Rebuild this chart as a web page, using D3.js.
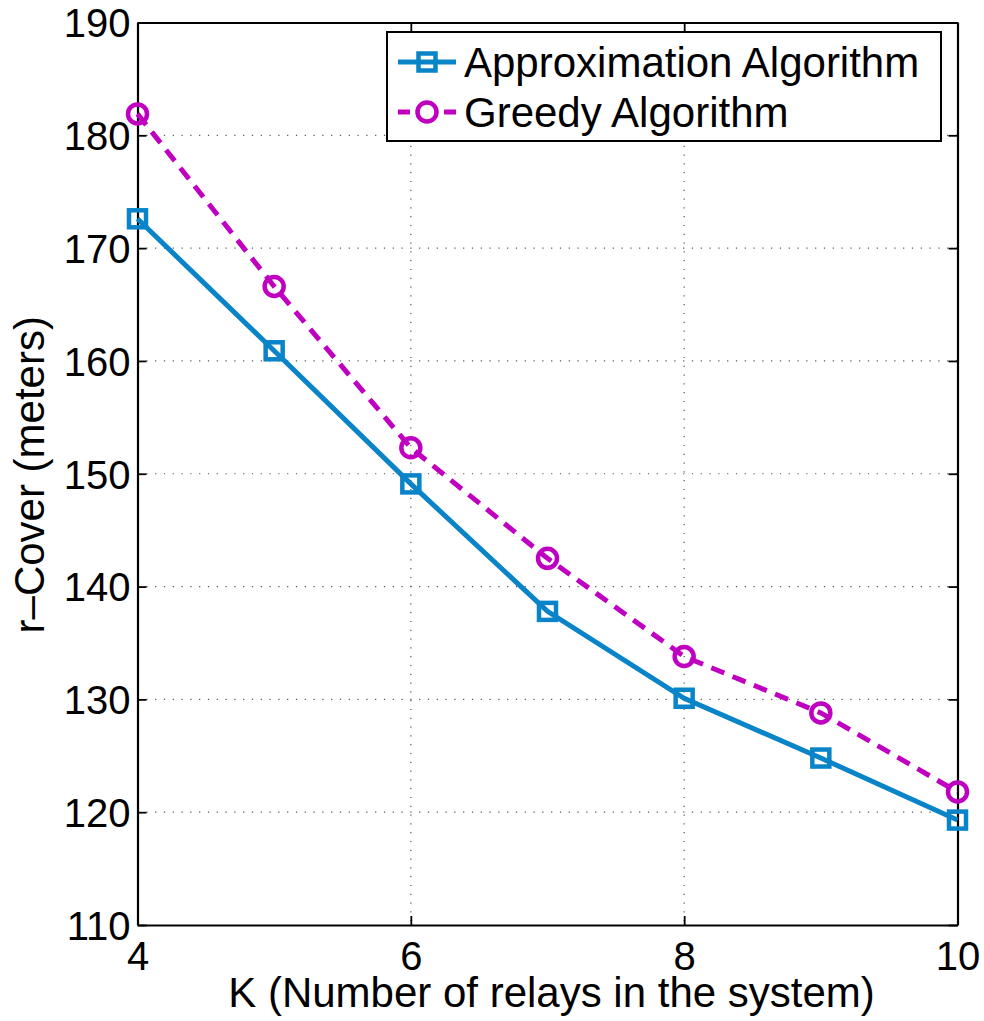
<!DOCTYPE html>
<html><head><meta charset="utf-8">
<script src="https://cdn.jsdelivr.net/npm/d3@7"></script>
<style>body{margin:0;background:#fff}svg text{font-family:"Liberation Sans",Arial,sans-serif}</style>
</head><body><svg id="c" width="984" height="1021"></svg>
<script>
const kValues = [4,5,6,7,8,9,10];
const approxValues = [172.6,160.9,149.1,137.8,130.1,124.8,119.3];
const greedyValues = [181.9,166.6,152.3,142.5,133.8,128.8,121.8];
const xTicks = [4,6,8,10];
const yTicks = [110,120,130,140,150,160,170,180,190];
const seriesNames = ["Approximation Algorithm","Greedy Algorithm"];
const blue = "#0a84c8", mag = "#c000c0";

const svg = d3.select("#c");
const L=137.5,R=957.5,T=22.5,B=925;
const x = d3.scaleLinear().domain([4,10]).range([L,R]);
const y = d3.scaleLinear().domain([110,190]).range([B,T]);

// grid
const g = svg.append("g");
g.selectAll(".gx").data(xTicks.slice(1,-1)).enter().append("line")
 .attr("x1",d=>x(d)).attr("x2",d=>x(d)).attr("y1",T).attr("y2",B)
 .attr("stroke","#555").attr("stroke-width",1.2).attr("stroke-dasharray","1.2,7.6");
g.selectAll(".gy").data(yTicks.slice(1,-1)).enter().append("line")
 .attr("y1",d=>y(d)).attr("y2",d=>y(d)).attr("x1",L).attr("x2",R)
 .attr("stroke","#555").attr("stroke-width",1.2).attr("stroke-dasharray","1.2,7.6");

// axes
const fmt = d3.format("d");
const xa = svg.append("g").attr("transform",`translate(0,${B})`)
 .call(d3.axisBottom(x).tickValues(xTicks).tickFormat(fmt).tickSizeInner(-9).tickSizeOuter(0));
const xa2 = svg.append("g").attr("transform",`translate(0,${T})`)
 .call(d3.axisTop(x).tickValues(xTicks).tickSizeInner(-9).tickSizeOuter(0).tickFormat(""));
const ya = svg.append("g").attr("transform",`translate(${L},0)`)
 .call(d3.axisLeft(y).tickValues(yTicks).tickFormat(fmt).tickSizeInner(-9).tickSizeOuter(0).tickPadding(7));
const ya2 = svg.append("g").attr("transform",`translate(${R},0)`)
 .call(d3.axisRight(y).tickValues(yTicks).tickSizeInner(-9).tickSizeOuter(0).tickFormat(""));
[xa,xa2,ya,ya2].forEach(a=>{
  a.select(".domain").attr("stroke","#000").attr("stroke-width",2.2);
  a.selectAll(".tick line").attr("stroke","#000").attr("stroke-width",1.8);
  a.selectAll("text").attr("font-size",40).attr("fill","#000").attr("font-family","Liberation Sans, Arial, sans-serif");
});
xa.selectAll("text").attr("y",45).attr("dy","0");
ya.selectAll("text").attr("dy","0.36em");

// lines
const line = d3.line().x((d,i)=>x(kValues[i])).y(d=>y(d));
svg.append("path").datum(approxValues).attr("d",line).attr("fill","none")
 .attr("stroke",blue).attr("stroke-width",5);
svg.append("path").datum(greedyValues).attr("d",line).attr("fill","none")
 .attr("stroke",mag).attr("stroke-width",5).attr("stroke-dasharray","14,9");

function square(sel,cx,cy){
  sel.append("rect").attr("x",cx-8.5).attr("y",cy-8.5).attr("width",17).attr("height",17)
   .attr("fill","none").attr("stroke",blue).attr("stroke-width",4.5);
}
function circ(sel,cx,cy){
  sel.append("circle").attr("cx",cx).attr("cy",cy).attr("r",9.5)
   .attr("fill","none").attr("stroke",mag).attr("stroke-width",4.5);
}
approxValues.forEach((v,i)=>square(svg,x(kValues[i]),y(v)));
greedyValues.forEach((v,i)=>circ(svg,x(kValues[i]),y(v)));

// legend
const lg = svg.append("g");
lg.append("rect").attr("x",387).attr("y",32).attr("width",554).attr("height",109)
 .attr("fill","#fff").attr("stroke","#000").attr("stroke-width",2);
const ly=[62,112];
lg.append("line").attr("x1",398).attr("x2",456).attr("y1",ly[0]).attr("y2",ly[0]).attr("stroke",blue).attr("stroke-width",5);
square(lg,427,ly[0]);
[[398,410],[444,456]].forEach(s=>lg.append("line").attr("x1",s[0]).attr("x2",s[1]).attr("y1",ly[1]).attr("y2",ly[1]).attr("stroke",mag).attr("stroke-width",5));
circ(lg,427,ly[1]);
seriesNames.forEach((n,i)=>lg.append("text").attr("x",464).attr("y",ly[i]).attr("dy","0.36em")
 .attr("font-size",42).attr("fill","#000").text(n));

// labels
svg.append("text").attr("x",(L+R)/2+4).attr("y",1007).attr("text-anchor","middle")
 .attr("font-size",42).text("K (Number of relays in the system)");
svg.append("text").attr("transform",`translate(44,${(T+B)/2+1}) rotate(-90)`).attr("text-anchor","middle")
 .attr("font-size",42).text("r\u2013Cover (meters)");
</script></body></html>
